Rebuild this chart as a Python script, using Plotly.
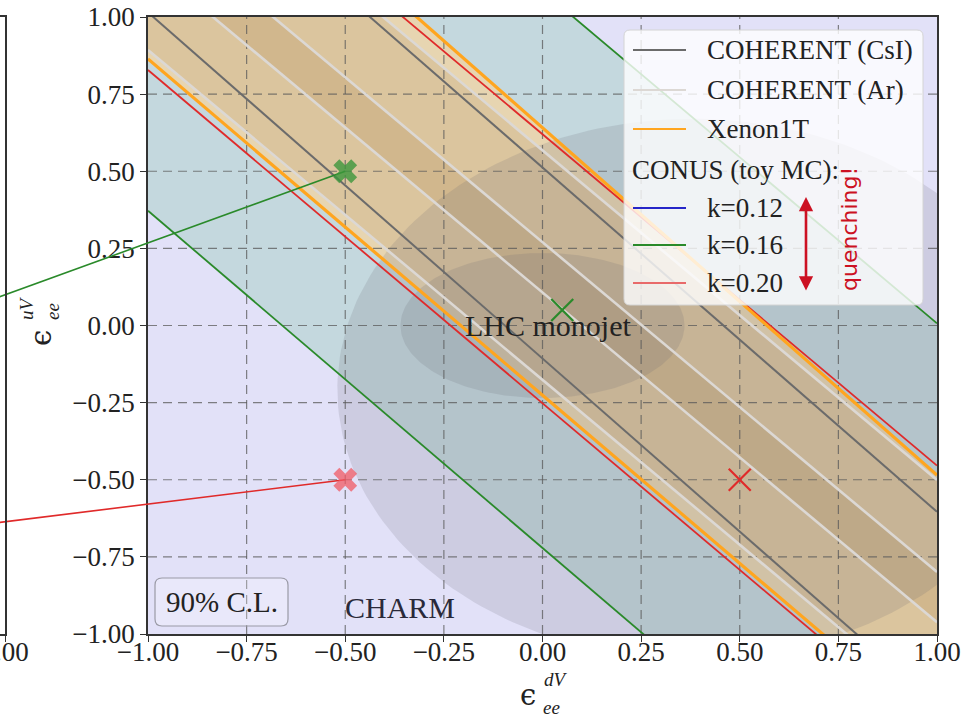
import numpy as np
import plotly.graph_objects as go

W, H = 971, 718
FRAME_L, FRAME_R, FRAME_T, FRAME_B = 148, 937, 17, 634   # plot frame in pixels

x_range = [-1.0, 1.0]
y_range = [-1.0, 1.0]
tick_vals = [-1.0, -0.75, -0.5, -0.25, 0.0, 0.25, 0.5, 0.75, 1.0]

# Constraint lines, given as eps_uV at eps_dV = -1 and at eps_dV = +1
csi_at_m1 = [1.015, 1.628]
csi_at_p1 = [-1.229, -0.604]
ar_at_m1 = [0.893, 1.176, 1.339, 1.637]
ar_at_p1 = [-1.245, -0.962, -0.799, -0.501]
xe_at_m1 = [0.864, 1.767]
xe_at_p1 = [-1.316, -0.485]
conus16_at_m1 = [0.372, 2.161]
conus16_at_p1 = [-1.814, 0.007]
conus20_at_m1 = [0.828, 1.694]
conus20_at_p1 = [-1.332, -0.454]

# LHC monojet contours: centre d, centre u, half-width, half-height
lhc_outer = [0.38, -0.206, 0.90, 0.876]
lhc_inner = [0.0, 0.0, 0.36, 0.235]

# fitted points (thin crosses) and injected points (bold crosses)
fit_d = [0.05, 0.5]
fit_u = [0.05, -0.5]
inj_d = [-0.5, -0.5]
inj_u = [0.5, -0.5]
# connectors coming in from the neighbouring panel
link_from_d = [-1.40, -1.40]
link_from_u = [0.082, -0.642]

C_CSI = "#6b6b6b"
C_AR = "#dcd8d4"
C_XE = "#ffa51f"
C_K12 = "#2525c8"
C_K16 = "#2a8a2a"
C_K20 = "#e02a2a"
SERIF = "Liberation Serif"
SANS = "DejaVu Sans"
INK = "#222222"

fig = go.Figure()


def band(lo_m1, lo_p1, hi_m1, hi_p1, color):
    xs = [x_range[0], x_range[1], x_range[1], x_range[0], x_range[0]]
    ys = [lo_m1, lo_p1, hi_p1, hi_m1, lo_m1]
    fig.add_trace(go.Scatter(x=xs, y=ys, mode="lines", fill="toself",
                             fillcolor=color, line=dict(width=0),
                             hoverinfo="skip", showlegend=False))


def line(at_m1, at_p1, color, width):
    fig.add_trace(go.Scatter(x=x_range, y=[at_m1, at_p1], mode="lines",
                             line=dict(color=color, width=width),
                             hoverinfo="skip", showlegend=False))


def ellipse(p, color):
    t = np.linspace(0, 2 * np.pi, 240)
    fig.add_trace(go.Scatter(x=p[0] + p[2] * np.cos(t), y=p[1] + p[3] * np.sin(t),
                             mode="lines", fill="toself", fillcolor=color,
                             line=dict(width=0), hoverinfo="skip", showlegend=False))


# background fill of the frame (CHARM region)
fig.add_shape(type="rect", xref="x domain", yref="y domain", x0=0, x1=1, y0=0, y1=1,
              fillcolor="#e2e1f8", line=dict(width=0), layer="below")

# allowed bands
band(conus16_at_m1[0], conus16_at_p1[0], conus16_at_m1[1], conus16_at_p1[1], "rgba(80,180,118,0.20)")
band(xe_at_m1[0], xe_at_p1[0], xe_at_m1[1], xe_at_p1[1], "rgba(255,212,146,0.60)")
band(ar_at_m1[0], ar_at_p1[0], ar_at_m1[2], ar_at_p1[2], "rgba(130,70,10,0.11)")
band(ar_at_m1[1], ar_at_p1[1], ar_at_m1[3], ar_at_p1[3], "rgba(130,70,10,0.11)")

# LHC monojet contours
ellipse(lhc_outer, "rgba(100,100,112,0.17)")
ellipse(lhc_inner, "rgba(100,100,112,0.17)")

# dashed grid
gx, gy = [], []
for t in tick_vals[1:-1]:
    gx += [t, t, None]
    gy += [y_range[0], y_range[1], None]
for t in tick_vals[1:-1]:
    gx += [x_range[0], x_range[1], None]
    gy += [t, t, None]
fig.add_trace(go.Scatter(x=gx, y=gy, mode="lines",
                         line=dict(color="rgba(90,90,90,0.75)", width=1.2, dash="9px,6px"),
                         hoverinfo="skip", showlegend=False))

# boundary lines
for a, b in zip(conus16_at_m1, conus16_at_p1):
    line(a, b, C_K16, 1.8)
for a, b in zip(conus20_at_m1, conus20_at_p1):
    line(a, b, C_K20, 1.8)
for a, b in zip(ar_at_m1, ar_at_p1):
    line(a, b, C_AR, 2.6)
for a, b in zip(xe_at_m1, xe_at_p1):
    line(a, b, C_XE, 3.2)
for a, b in zip(csi_at_m1, csi_at_p1):
    line(a, b, C_CSI, 2.0)

# fitted points
fig.add_trace(go.Scatter(x=fit_d, y=fit_u, mode="markers",
                         marker=dict(symbol="x-thin", size=22, line=dict(width=2.2, color=[C_K16, C_K20])),
                         hoverinfo="skip", showlegend=False))

# full-figure axes for connectors from the neighbouring panel
sx = (x_range[1] - x_range[0]) / (FRAME_R - FRAME_L)
sy = (y_range[1] - y_range[0]) / (FRAME_B - FRAME_T)
x2_range = [x_range[0] - FRAME_L * sx, x_range[1] + (W - FRAME_R) * sx]
y2_range = [y_range[0] - (H - FRAME_B) * sy, y_range[1] + FRAME_T * sy]

for i, col in enumerate([C_K16, C_K20]):
    fig.add_trace(go.Scatter(x=[link_from_d[i], inj_d[i]], y=[link_from_u[i], inj_u[i]],
                             mode="lines", line=dict(color=col, width=1.6),
                             xaxis="x2", yaxis="y2", hoverinfo="skip", showlegend=False))
fig.add_trace(go.Scatter(x=inj_d, y=inj_u, mode="markers", xaxis="x2", yaxis="y2",
                         marker=dict(symbol="x", size=21, color=["rgba(60,150,60,0.8)", "rgba(240,90,100,0.75)"],
                                     line=dict(width=0)),
                         hoverinfo="skip", showlegend=False))

# frame edge of the neighbouring panel
fig.add_trace(go.Scatter(x=[None], y=[None], xaxis="x3", yaxis="y3", showlegend=False))


def px(x):
    return x / W


def py(y):
    return 1 - y / H


axis_common = dict(showgrid=False, zeroline=False, showline=True, mirror=True,
                   linecolor="#333333", linewidth=1.5, ticks="outside", ticklen=6,
                   tickwidth=1.4, tickcolor="#333333", automargin=False,
                   tickfont=dict(family=SERIF, size=27, color=INK))

fig.update_layout(
    width=W, height=H,
    margin=dict(l=0, r=0, t=0, b=0),
    paper_bgcolor="white",
    plot_bgcolor="rgba(0,0,0,0)",
    showlegend=False,
    xaxis=dict(domain=[px(FRAME_L), px(FRAME_R)], range=x_range, tickvals=tick_vals,
               tickformat=".2f", anchor="y", ticklabelstandoff=-13, **axis_common),
    yaxis=dict(domain=[py(FRAME_B), py(FRAME_T)], range=y_range, tickvals=tick_vals,
               tickformat=".2f", anchor="x", **axis_common),
    xaxis2=dict(domain=[0, 1], range=x2_range, visible=False, anchor="y2", fixedrange=True),
    yaxis2=dict(domain=[0, 1], range=y2_range, visible=False, anchor="x2", fixedrange=True),
    xaxis3=dict(domain=[0, px(5)], range=[0.0, 1.0], tickvals=[1.0], ticktext=["1.00"],
                anchor="y3", ticklabelstandoff=-13, ticklabeloverflow="allow", **axis_common),
    yaxis3=dict(domain=[py(FRAME_B), py(FRAME_T)], range=[0, 1], anchor="x3",
                showticklabels=False, showgrid=False, zeroline=False, showline=True, mirror=True,
                linecolor="#333333", linewidth=1.5, ticks="", automargin=False),
)


def rounded_rect(x0, y0, x1, y1, r):
    X0, X1 = px(x0), px(x1)
    Y0, Y1 = py(y0), py(y1)
    rx, ry = r / W, r / H
    return (f"M {X0 + rx},{Y0} L {X1 - rx},{Y0} Q {X1},{Y0} {X1},{Y0 - ry} "
            f"L {X1},{Y1 + ry} Q {X1},{Y1} {X1 - rx},{Y1} L {X0 + rx},{Y1} "
            f"Q {X0},{Y1} {X0},{Y1 + ry} L {X0},{Y0 - ry} Q {X0},{Y0} {X0 + rx},{Y0} Z")


# legend box
fig.add_shape(type="path", xref="paper", yref="paper", path=rounded_rect(624, 30, 923, 305, 6),
              fillcolor="rgba(255,255,255,0.8)", line=dict(color="#d4d4d4", width=1))
legend_rows = [
    ("COHERENT (CsI)", C_CSI, 50),
    ("COHERENT (Ar)", C_AR, 90),
    ("Xenon1T", C_XE, 129),
    ("k=0.12", C_K12, 208),
    ("k=0.16", C_K16, 245),
    ("k=0.20", "#e86a6a", 283),
]
for label, col, yy in legend_rows:
    fig.add_shape(type="line", xref="paper", yref="paper", x0=px(633), x1=px(686),
                  y0=py(yy), y1=py(yy), line=dict(color=col, width=2.2))
    fig.add_annotation(x=px(705), y=py(yy), xref="paper", yref="paper", text=label,
                       showarrow=False, xanchor="left", yanchor="middle",
                       font=dict(family=SERIF, size=27, color=INK))
fig.add_annotation(x=px(630), y=py(170), xref="paper", yref="paper", text="CONUS (toy MC):",
                   showarrow=False, xanchor="left", yanchor="middle",
                   font=dict(family=SERIF, size=27, color=INK))

# quenching arrow
fig.add_annotation(x=px(806), y=py(197), xref="paper", yref="paper", ax=0, ay=95,
                   axref="pixel", ayref="pixel", text="", showarrow=True,
                   arrowhead=2, startarrowhead=2, arrowside="end+start", arrowsize=1.1,
                   arrowwidth=2.6, arrowcolor="#cc1122")
fig.add_annotation(x=px(849), y=py(229), xref="paper", yref="paper", text="quenching!",
                   textangle=-90, showarrow=False, xanchor="center", yanchor="middle",
                   font=dict(family=SANS, size=22, color="#cc1122"))

# region labels
fig.add_annotation(x=0.015, y=0.0, xref="x", yref="y", text="LHC monojet", showarrow=False,
                   xanchor="center", yanchor="middle",
                   font=dict(family=SERIF, size=30, color=INK))
fig.add_annotation(x=-0.36, y=-0.915, xref="x", yref="y", text="CHARM", showarrow=False,
                   xanchor="center", yanchor="middle",
                   font=dict(family=SERIF, size=30, color="#2a2a3a"))

# confidence level box
fig.add_shape(type="path", xref="paper", yref="paper", path=rounded_rect(155, 578, 288, 626, 7),
              fillcolor="rgba(255,255,255,0.25)", line=dict(color="#9a9aa6", width=1.2))
fig.add_annotation(x=px(222), y=py(602), xref="paper", yref="paper", text="90% C.L.",
                   showarrow=False, xanchor="center", yanchor="middle",
                   font=dict(family=SERIF, size=29, color=INK))

# axis titles
EPS_FONT = dict(family="DejaVu Serif", size=29, color=INK)
SCRIPT_FONT = dict(family=SERIF, size=19, color=INK)
fig.add_annotation(x=px(528), y=py(695), xref="paper", yref="paper", text="ϵ", showarrow=False,
                   xanchor="center", yanchor="middle", font=EPS_FONT)
fig.add_annotation(x=px(556), y=py(679), xref="paper", yref="paper", text="<i>dV</i>", showarrow=False,
                   xanchor="center", yanchor="middle", font=SCRIPT_FONT)
fig.add_annotation(x=px(551), y=py(707), xref="paper", yref="paper", text="<i>ee</i>", showarrow=False,
                   xanchor="center", yanchor="middle", font=SCRIPT_FONT)

fig.add_annotation(x=px(41), y=py(338), xref="paper", yref="paper", text="ϵ", showarrow=False,
                   textangle=-90, xanchor="center", yanchor="middle", font=EPS_FONT)
fig.add_annotation(x=px(26), y=py(308), xref="paper", yref="paper", text="<i>uV</i>", showarrow=False,
                   textangle=-90, xanchor="center", yanchor="middle", font=SCRIPT_FONT)
fig.add_annotation(x=px(52), y=py(312), xref="paper", yref="paper", text="<i>ee</i>", showarrow=False,
                   textangle=-90, xanchor="center", yanchor="middle", font=SCRIPT_FONT)

fig.write_html("out.html")
